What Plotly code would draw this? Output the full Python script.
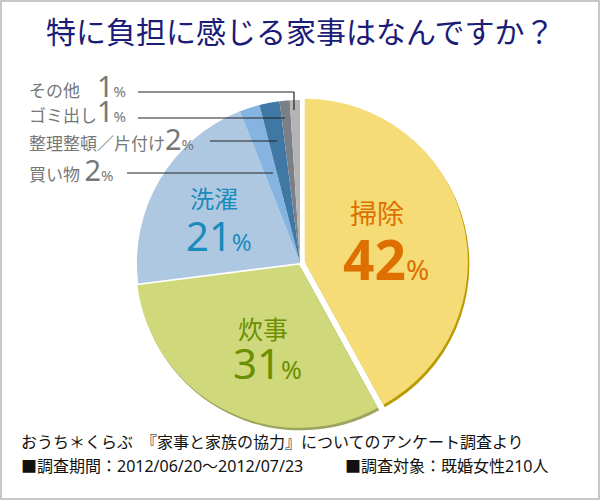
import plotly.graph_objects as go

# ---- data ----
categories = ["掃除", "炊事", "洗濯", "買い物", "整理整頓／片付け", "ゴミ出し", "その他"]
values = [42, 31, 21, 2, 2, 1, 1]
colors = ["#f5dc76", "#cfd97b", "#afc8e2", "#86b4e0", "#3f78a5", "#7b8087", "#b4b4b4"]
shadow_colors = ["#b99b00", "#9da45e", "rgba(0,0,0,0)", "rgba(0,0,0,0)",
                 "rgba(0,0,0,0)", "rgba(0,0,0,0)", "rgba(0,0,0,0)"]
pulls = [0.03, 0.012, 0, 0, 0, 0, 0]

title_text = "特に負担に感じる家事はなんですか？"
footer1 = "おうち＊くらぶ　『家事と家族の協力』についてのアンケート調査より"
footer2a = "■調査期間：2012/06/20～2012/07/23"
footer2b = "■調査対象：既婚女性210人"

W, H = 600, 500
FONT = "Noto Sans CJK JP"
NUMFONT = "Noto Sans, Noto Sans CJK JP"


def px(x):
    return x / W


def py(y):
    return 1 - y / H


cx, cy, R = 300, 263, 168
dom_x = [px(cx - R), px(cx + R)]
dom_y = [py(cy + R), py(cy - R)]
sx, sy = 1.5, 2.5

fig = go.Figure()
fig.add_trace(go.Pie(
    labels=categories, values=values, sort=False, direction="clockwise", rotation=0,
    pull=pulls, textinfo="none", hoverinfo="skip", showlegend=False,
    marker=dict(colors=shadow_colors, line=dict(width=0)),
    domain=dict(x=[dom_x[0] + px(sx), dom_x[1] + px(sx)], y=[dom_y[0] - sy / H, dom_y[1] - sy / H]),
))
fig.add_trace(go.Pie(
    labels=categories, values=values, sort=False, direction="clockwise", rotation=0,
    pull=pulls, textinfo="none", showlegend=False,
    marker=dict(colors=colors, line=dict(width=0)),
    domain=dict(x=dom_x, y=dom_y),
))

ann = []


def add(x, y, text, color, size, xanchor="center", family=FONT):
    ann.append(dict(x=px(x), y=py(y), xref="paper", yref="paper", text=text, showarrow=False,
                    xanchor=xanchor, yanchor="middle", font=dict(family=family, size=size, color=color)))


add(300, 30, title_text, "#1b1b78", 30)

# inner labels
add(377, 213, categories[0], "#dd7000", 27)
add(386, 258, f"<b><span style='font-size:55px'>{values[0]}</span></b><span style='font-size:28px'>%</span>",
    "#dd7000", 28, family=NUMFONT)
add(263, 328, categories[1], "#6a8f00", 25)
add(267, 362, f"<span style='font-size:42px'>{values[1]}</span><span style='font-size:25px'>%</span>",
    "#6a8f00", 25, family=NUMFONT)
add(214, 197, categories[2], "#1b8bbb", 24)
add(219, 235, f"<span style='font-size:40px'>{values[2]}</span><span style='font-size:24px'>%</span>",
    "#1b8bbb", 24, family=NUMFONT)

# small labels on the left
gray = "#777777"
small = [
    (85, "その他　", values[6]),
    (111, "ゴミ出し", values[5]),
    (138, "整理整頓／片付け", values[4]),
    (169, "買い物 ", values[3]),
]
for y, name, v in small:
    add(27, y, f"{name}<span style='font-size:29px'>{v}</span><span style='font-size:15px'>%</span>",
        gray, 17, xanchor="left", family=NUMFONT)

add(19, 442, footer1, "#111111", 16, xanchor="left", family=NUMFONT)
add(19, 466, footer2a, "#111111", 16, xanchor="left", family=NUMFONT)
add(343, 466, footer2b, "#111111", 16, xanchor="left", family=NUMFONT)

shapes = [
    dict(type="rect", xref="paper", yref="paper", x0=px(1), x1=px(599), y0=py(499), y1=py(1),
         line=dict(color="#c8c8c8", width=2)),
    dict(type="line", xref="paper", yref="paper", x0=px(138), x1=px(294), y0=py(92), y1=py(92), line=dict(color="#222", width=1.2)),
    dict(type="line", xref="paper", yref="paper", x0=px(294), x1=px(294), y0=py(92), y1=py(110), line=dict(color="#222", width=1.2)),
    dict(type="line", xref="paper", yref="paper", x0=px(138), x1=px(285), y0=py(118), y1=py(118), line=dict(color="#222", width=1.2)),
    dict(type="line", xref="paper", yref="paper", x0=px(210), x1=px(277), y0=py(141), y1=py(141), line=dict(color="#222", width=1.2)),
    dict(type="line", xref="paper", yref="paper", x0=px(127), x1=px(273), y0=py(173), y1=py(173), line=dict(color="#222", width=1.2)),
]

fig.update_layout(
    width=W, height=H, margin=dict(l=0, r=0, t=0, b=0),
    paper_bgcolor="white", plot_bgcolor="white",
    annotations=ann, shapes=shapes,
)
fig.write_html("out.html", config={"displayModeBar": False},
               post_script="document.body.style.margin='0';document.body.style.overflow='hidden';")
